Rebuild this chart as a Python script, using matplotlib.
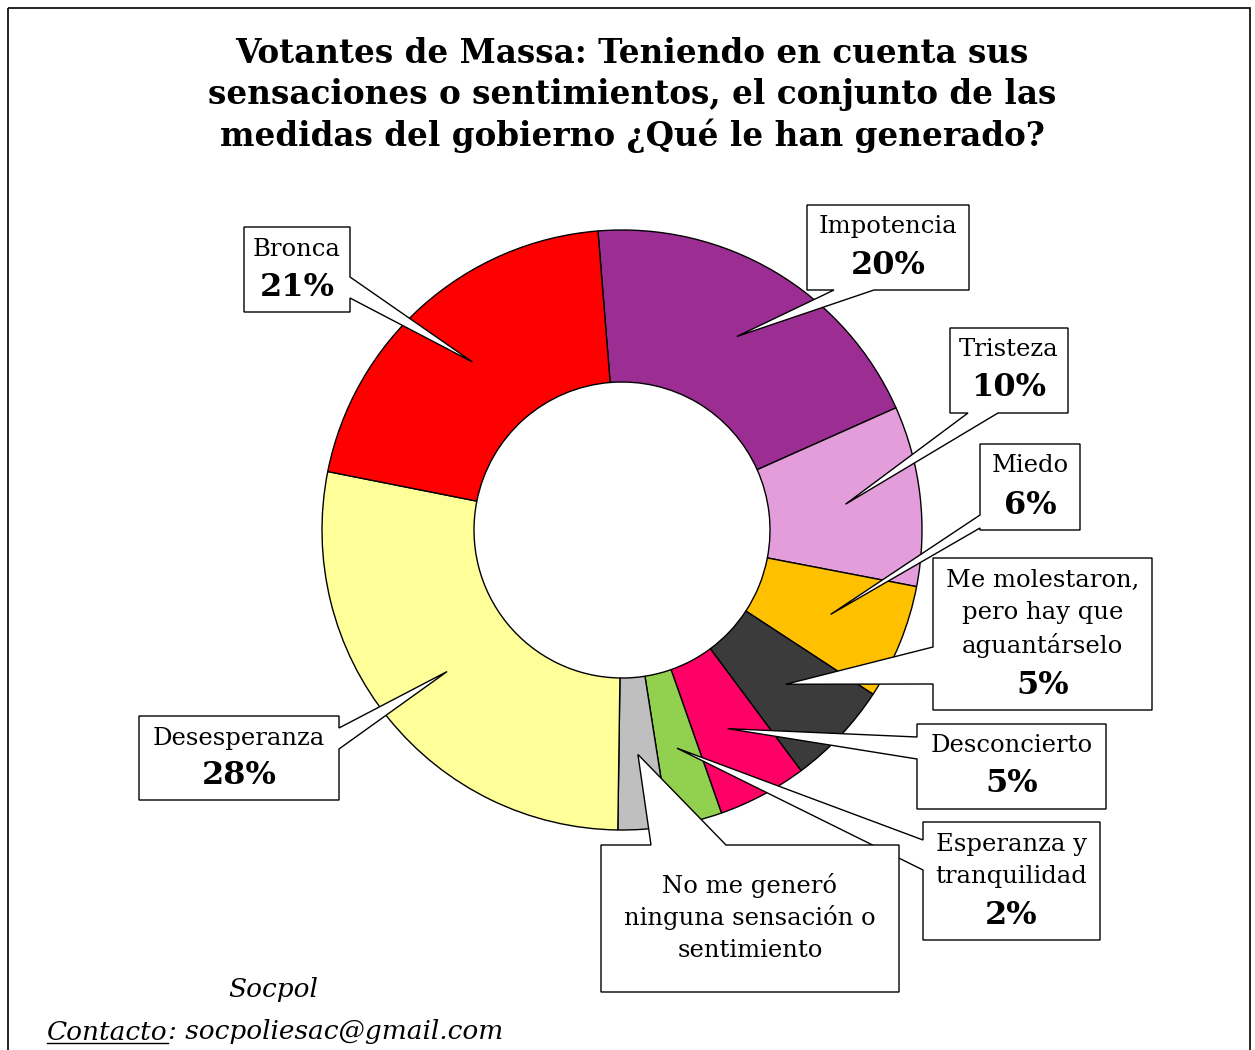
import numpy as np
import matplotlib.pyplot as plt
from matplotlib.patches import Rectangle, Polygon

# data, clockwise from the top
categories = ["Impotencia", "Tristeza", "Miedo",
              "Me molestaron,\npero hay que\naguantárselo", "Desconcierto",
              "Esperanza y\ntranquilidad",
              "No me generó\nninguna sensación o\nsentimiento",
              "Desesperanza", "Bronca"]
values = [19.6, 9.7, 6.2, 5.6, 4.8, 2.9, 2.7, 27.9, 20.6]
pct_labels = ["20%", "10%", "6%", "5%", "5%", "2%", "", "28%", "21%"]
colors = ["#9B2D93", "#E39DDB", "#FFC000", "#3B3B3B", "#FF0066",
          "#92D050", "#BFBFBF", "#FFFF99", "#FF0000"]

# label boxes (pixel coords: x0, y0, x1, y1) and where the callout leaves the box
boxes = [(807, 205, 969, 290), (950, 328, 1068, 413), (980, 444, 1080, 530),
         (933, 558, 1152, 710), (917, 724, 1106, 809), (923, 822, 1100, 940),
         (601, 845, 899, 992), (139, 716, 339, 800), (244, 227, 350, 312)]
callout_edge = ["bottom", "bottom", "left", "left", "left", "left", "top",
                "right", "right"]
callout_span = [(834, 874), (968, 998), (515, 528), (647, 684), (737, 759),
                (840, 870), (651, 726), (728, 749), (277, 298)]

W, H = 1255, 1050
cx, cy, R, r_in = 622, 530, 300, 148


def callout_poly(box, edge, span, tip):
    x0, y0, x1, y1 = box
    a, b = sorted(span)
    tip = tuple(tip)
    if edge == "top":
        return [(x0, y0), (a, y0), tip, (b, y0), (x1, y0), (x1, y1), (x0, y1)]
    if edge == "right":
        return [(x0, y0), (x1, y0), (x1, a), tip, (x1, b), (x1, y1), (x0, y1)]
    if edge == "bottom":
        return [(x0, y0), (x1, y0), (x1, y1), (b, y1), tip, (a, y1), (x0, y1)]
    return [(x0, y0), (x1, y0), (x1, y1), (x0, y1), (x0, b), tip, (x0, a)]


fig = plt.figure(figsize=(W / 100, H / 100), dpi=100)
ax = fig.add_axes([0, 0, 1, 1])

wedges, _ = ax.pie(values, colors=colors, center=(cx, cy), radius=R,
                   startangle=-94.6, counterclock=True, frame=True,
                   wedgeprops=dict(width=R - r_in, edgecolor="black", linewidth=1))
ax.set_xlim(0, W)
ax.set_ylim(H, 0)
ax.set_aspect("equal")
ax.axis("off")

# outer frame
ax.add_patch(Rectangle((8, 8), 1242, 1060, fill=False, ec="black", lw=1.2,
                       clip_on=False))

serif = "DejaVu Serif"
for i, (w, cat, pct, box) in enumerate(zip(wedges, categories, pct_labels, boxes)):
    th = np.radians((w.theta1 + w.theta2) / 2)
    tip = (cx + 0.75 * R * np.cos(th), cy + 0.75 * R * np.sin(th))
    ax.add_patch(Polygon(callout_poly(box, callout_edge[i], callout_span[i], tip),
                         closed=True, fc="white", ec="black", lw=1,
                         zorder=3 + i * 0.1))
    x0, y0, x1, y1 = box
    xm = (x0 + x1) / 2
    lines = cat.split("\n")
    if pct:
        starts = y0 + 22
    else:
        starts = (y0 + y1) / 2 - 33 * (len(lines) - 1) / 2
    for k, line in enumerate(lines):
        ax.text(xm, starts + 32.5 * k, line, ha="center", va="center",
                fontsize=17.5, family=serif, zorder=5)
    if pct:
        ax.text(xm, y1 - 25, pct, ha="center", va="center", fontsize=23,
                family=serif, fontweight="bold", zorder=5)

ax.text(632, 95, "Votantes de Massa: Teniendo en cuenta sus\n"
        "sensaciones o sentimientos, el conjunto de las\n"
        "medidas del gobierno ¿Qué le han generado?",
        ha="center", va="center", fontsize=23.5, fontweight="bold",
        family=serif, linespacing=1.3)

ax.text(273, 990, "Socpol", ha="center", va="center", fontsize=19,
        family=serif, style="italic")
t1 = ax.text(47, 1032, "Contacto", ha="left", va="center", fontsize=19,
             family=serif, style="italic")
fig.canvas.draw()
bb = t1.get_window_extent().transformed(ax.transData.inverted())
ax.plot([bb.x0, bb.x1], [bb.y0 - 2, bb.y0 - 2], color="black", lw=1)
ax.text(bb.x1, 1032, ": socpoliesac@gmail.com", ha="left", va="center",
        fontsize=19, family=serif, style="italic")

fig.savefig("out.png", dpi=100)
